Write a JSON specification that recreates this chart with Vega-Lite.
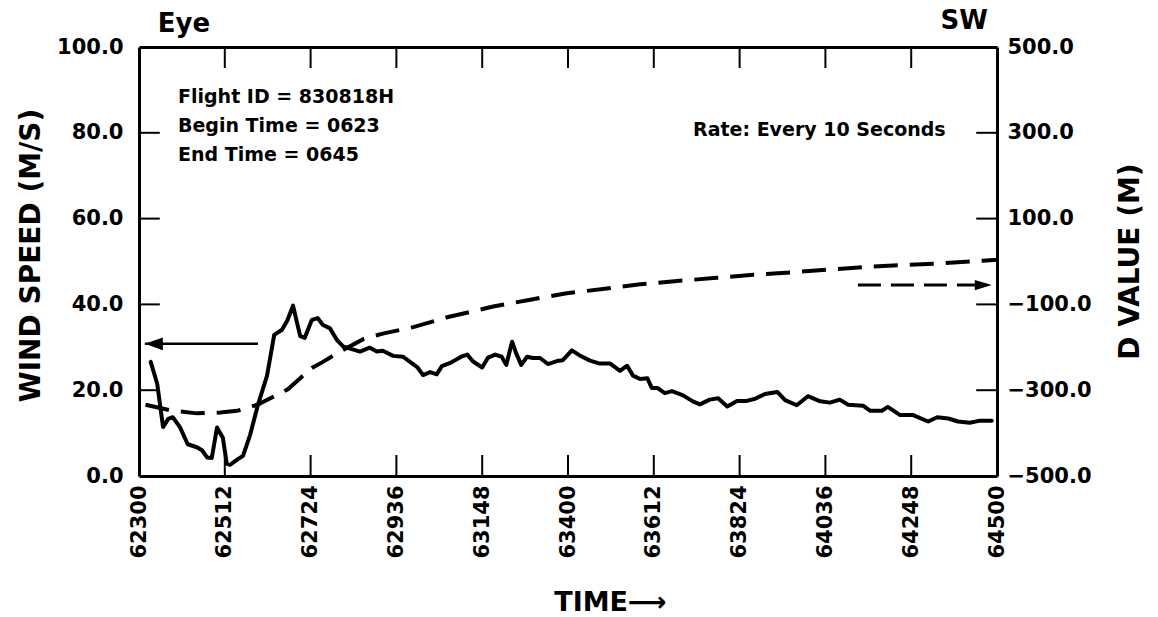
{
  "$schema": "https://vega.github.io/schema/vega-lite/v6.json",
  "width": 858,
  "height": 429,
  "autosize": {"type": "none"},
  "padding": {"left": 139, "top": 47, "right": 161, "bottom": 141},
  "background": "white",
  "config": {
    "view": {"stroke": null},
    "font": "DejaVu Sans",
    "axis": {
      "domainColor": "black",
      "domainWidth": 3,
      "ticks": false,
      "grid": false,
      "labelFont": "DejaVu Sans",
      "labelFontWeight": "bold",
      "labelFontSize": 21,
      "labelColor": "black",
      "labelFlush": false,
      "labelOverlap": false,
      "titleFont": "DejaVu Sans",
      "titleFontWeight": "bold",
      "titleFontSize": 28,
      "titleColor": "black"
    },
    "text": {"font": "DejaVu Sans", "fontWeight": "bold", "color": "black"}
  },
  "datasets": {
    "wind": [
      {"t": 18, "w": 26.6}, {"t": 28, "w": 21.5}, {"t": 37, "w": 11.4}, {"t": 45, "w": 13.3}, {"t": 52, "w": 13.7},
      {"t": 63, "w": 11.4}, {"t": 75, "w": 7.4}, {"t": 89, "w": 6.7}, {"t": 97, "w": 6.0}, {"t": 105, "w": 4.3},
      {"t": 112, "w": 4.2}, {"t": 120, "w": 11.3}, {"t": 129, "w": 8.9}, {"t": 135, "w": 2.9}, {"t": 140, "w": 2.6},
      {"t": 151, "w": 3.8}, {"t": 160, "w": 4.7}, {"t": 171, "w": 9.6}, {"t": 183, "w": 16.6}, {"t": 197, "w": 23.4},
      {"t": 208, "w": 32.9}, {"t": 220, "w": 34.1}, {"t": 228, "w": 36.2}, {"t": 237, "w": 39.7}, {"t": 248, "w": 32.6},
      {"t": 255, "w": 32.2}, {"t": 266, "w": 36.4}, {"t": 275, "w": 36.8}, {"t": 283, "w": 35.2}, {"t": 294, "w": 34.4},
      {"t": 305, "w": 31.6}, {"t": 314, "w": 30.2}, {"t": 325, "w": 29.7}, {"t": 340, "w": 29.0}, {"t": 355, "w": 29.9},
      {"t": 366, "w": 29.0}, {"t": 375, "w": 29.2}, {"t": 391, "w": 28.0}, {"t": 406, "w": 27.8}, {"t": 417, "w": 26.6},
      {"t": 428, "w": 25.4}, {"t": 437, "w": 23.5}, {"t": 448, "w": 24.2}, {"t": 458, "w": 23.7}, {"t": 466, "w": 25.6},
      {"t": 478, "w": 26.3}, {"t": 489, "w": 27.2}, {"t": 497, "w": 27.9}, {"t": 505, "w": 28.3}, {"t": 514, "w": 26.7},
      {"t": 528, "w": 25.3}, {"t": 537, "w": 27.6}, {"t": 548, "w": 28.3}, {"t": 558, "w": 27.8}, {"t": 565, "w": 25.9},
      {"t": 574, "w": 31.3}, {"t": 580, "w": 28.7}, {"t": 588, "w": 25.9}, {"t": 597, "w": 27.8}, {"t": 606, "w": 27.5},
      {"t": 617, "w": 27.5}, {"t": 629, "w": 26.1}, {"t": 643, "w": 26.8}, {"t": 652, "w": 27.0}, {"t": 666, "w": 29.3},
      {"t": 678, "w": 28.1}, {"t": 694, "w": 26.9}, {"t": 709, "w": 26.2}, {"t": 725, "w": 26.2}, {"t": 740, "w": 24.5},
      {"t": 751, "w": 25.7}, {"t": 760, "w": 23.4}, {"t": 771, "w": 22.6}, {"t": 782, "w": 22.8}, {"t": 789, "w": 20.5},
      {"t": 798, "w": 20.5}, {"t": 809, "w": 19.3}, {"t": 820, "w": 19.8}, {"t": 837, "w": 18.8}, {"t": 852, "w": 17.4},
      {"t": 863, "w": 16.7}, {"t": 878, "w": 17.8}, {"t": 891, "w": 18.1}, {"t": 905, "w": 16.2}, {"t": 920, "w": 17.5},
      {"t": 935, "w": 17.5}, {"t": 948, "w": 18.0}, {"t": 963, "w": 19.1}, {"t": 982, "w": 19.6}, {"t": 994, "w": 17.7},
      {"t": 1012, "w": 16.5}, {"t": 1029, "w": 18.6}, {"t": 1048, "w": 17.4}, {"t": 1063, "w": 17.1}, {"t": 1078, "w": 17.8},
      {"t": 1091, "w": 16.6}, {"t": 1114, "w": 16.4}, {"t": 1125, "w": 15.2}, {"t": 1143, "w": 15.2}, {"t": 1152, "w": 16.1},
      {"t": 1171, "w": 14.2}, {"t": 1191, "w": 14.2}, {"t": 1214, "w": 12.7}, {"t": 1228, "w": 13.7}, {"t": 1245, "w": 13.4},
      {"t": 1260, "w": 12.7}, {"t": 1278, "w": 12.4}, {"t": 1294, "w": 12.9}, {"t": 1312, "w": 12.9}
    ],
    "dvalue": [
      {"t": 10, "d": -334}, {"t": 48, "d": -347}, {"t": 89, "d": -354}, {"t": 125, "d": -352}, {"t": 151, "d": -348},
      {"t": 182, "d": -334}, {"t": 206, "d": -316}, {"t": 229, "d": -298}, {"t": 248, "d": -272}, {"t": 266, "d": -248},
      {"t": 283, "d": -234}, {"t": 309, "d": -210}, {"t": 345, "d": -181}, {"t": 375, "d": -168}, {"t": 422, "d": -153},
      {"t": 474, "d": -130}, {"t": 545, "d": -105}, {"t": 602, "d": -89}, {"t": 658, "d": -74}, {"t": 720, "d": -63},
      {"t": 771, "d": -53}, {"t": 832, "d": -45}, {"t": 889, "d": -38}, {"t": 945, "d": -31}, {"t": 1006, "d": -25},
      {"t": 1068, "d": -18}, {"t": 1125, "d": -12}, {"t": 1182, "d": -8}, {"t": 1237, "d": -4}, {"t": 1298, "d": 2},
      {"t": 1320, "d": 4}
    ],
    "ticks": [
      {"t": 0, "t2": 32, "w": 20, "w2": 20}, {"t": 0, "t2": 32, "w": 40, "w2": 40},
      {"t": 0, "t2": 32, "w": 60, "w2": 60}, {"t": 0, "t2": 32, "w": 80, "w2": 80},
      {"t": 1288, "t2": 1320, "w": 20, "w2": 20}, {"t": 1288, "t2": 1320, "w": 40, "w2": 40},
      {"t": 1288, "t2": 1320, "w": 60, "w2": 60}, {"t": 1288, "t2": 1320, "w": 80, "w2": 80},
      {"t": 132, "t2": 132, "w": 0, "w2": 4.9}, {"t": 264, "t2": 264, "w": 0, "w2": 4.9},
      {"t": 396, "t2": 396, "w": 0, "w2": 4.9}, {"t": 528, "t2": 528, "w": 0, "w2": 4.9},
      {"t": 660, "t2": 660, "w": 0, "w2": 4.9}, {"t": 792, "t2": 792, "w": 0, "w2": 4.9},
      {"t": 924, "t2": 924, "w": 0, "w2": 4.9}, {"t": 1056, "t2": 1056, "w": 0, "w2": 4.9},
      {"t": 1188, "t2": 1188, "w": 0, "w2": 4.9},
      {"t": 132, "t2": 132, "w": 95.1, "w2": 100}, {"t": 264, "t2": 264, "w": 95.1, "w2": 100},
      {"t": 396, "t2": 396, "w": 95.1, "w2": 100}, {"t": 528, "t2": 528, "w": 95.1, "w2": 100},
      {"t": 660, "t2": 660, "w": 95.1, "w2": 100}, {"t": 792, "t2": 792, "w": 95.1, "w2": 100},
      {"t": 924, "t2": 924, "w": 95.1, "w2": 100}, {"t": 1056, "t2": 1056, "w": 95.1, "w2": 100},
      {"t": 1188, "t2": 1188, "w": 95.1, "w2": 100}
    ],
    "infoText": [
      {"t": 60, "w": 86.9, "label": "Flight ID = 830818H"},
      {"t": 60, "w": 80.2, "label": "Begin Time = 0623"},
      {"t": 60, "w": 73.4, "label": "End Time = 0645"}
    ],
    "rateText": [{"t": 1241, "w": 79.3, "label": "Rate: Every 10 Seconds"}],
    "eyeText": [{"t": 29, "w": 103.5, "label": "Eye"}],
    "swText": [{"t": 1306, "w": 104.2, "label": "SW"}],
    "leftArrow": [{"t": 9, "t2": 183, "w": 30.8}],
    "rightArrow": [{"t": 1106, "t2": 1286, "w": 44.5}],
    "leftHead": [{"t": 9, "w": 30.8}],
    "rightHead": [{"t": 1312, "w": 44.5}]
  },
  "layer": [
    {
      "layer": [
        {
          "data": {"name": "wind"},
          "mark": {"type": "line", "color": "black", "strokeWidth": 4, "strokeJoin": "round", "strokeCap": "round"},
          "encoding": {
            "x": {
              "field": "t", "type": "quantitative",
              "scale": {"domain": [0, 1320], "nice": false, "zero": false},
              "axis": {
                "orient": "bottom",
                "values": [0, 132, 264, 396, 528, 660, 792, 924, 1056, 1188, 1320],
                "labelExpr": "['62300','62512','62724','62936','63148','63400','63612','63824','64036','64248','64500'][round(datum.value/132)]",
                "labelAngle": 270,
                "labelAlign": "right",
                "labelBaseline": "middle",
                "labelPadding": 9,
                "title": "TIME⟶",
                "titleFontSize": 27,
                "titleX": 471,
                "titleY": 134,
                "titleAlign": "center",
                "titleBaseline": "alphabetic"
              }
            },
            "y": {
              "field": "w", "type": "quantitative",
              "scale": {"domain": [0, 100], "nice": false, "zero": false},
              "axis": {
                "orient": "left",
                "values": [0, 20, 40, 60, 80, 100],
                "format": ".1f",
                "labelPadding": 16,
                "title": "WIND SPEED (M/S)",
                "titleAngle": 270,
                "titleX": -108,
                "titleY": 208,
                "titleAlign": "center",
                "titleBaseline": "middle"
              }
            }
          }
        },
        {
          "data": {"name": "ticks"},
          "mark": {"type": "rule", "color": "black", "strokeWidth": 2},
          "encoding": {
            "x": {"field": "t", "type": "quantitative"},
            "x2": {"field": "t2"},
            "y": {"field": "w", "type": "quantitative"},
            "y2": {"field": "w2"}
          }
        },
        {
          "data": {"name": "infoText"},
          "mark": {"type": "text", "align": "left", "baseline": "alphabetic", "fontSize": 19},
          "encoding": {
            "x": {"field": "t", "type": "quantitative"},
            "y": {"field": "w", "type": "quantitative"},
            "text": {"field": "label"}
          }
        },
        {
          "data": {"name": "rateText"},
          "mark": {"type": "text", "align": "right", "baseline": "alphabetic", "fontSize": 19},
          "encoding": {
            "x": {"field": "t", "type": "quantitative"},
            "y": {"field": "w", "type": "quantitative"},
            "text": {"field": "label"}
          }
        },
        {
          "data": {"name": "eyeText"},
          "mark": {"type": "text", "align": "left", "baseline": "alphabetic", "fontSize": 26},
          "encoding": {
            "x": {"field": "t", "type": "quantitative"},
            "y": {"field": "w", "type": "quantitative"},
            "text": {"field": "label"}
          }
        },
        {
          "data": {"name": "swText"},
          "mark": {"type": "text", "align": "right", "baseline": "alphabetic", "fontSize": 26},
          "encoding": {
            "x": {"field": "t", "type": "quantitative"},
            "y": {"field": "w", "type": "quantitative"},
            "text": {"field": "label"}
          }
        },
        {
          "data": {"name": "leftArrow"},
          "mark": {"type": "rule", "color": "black", "strokeWidth": 2.5},
          "encoding": {
            "x": {"field": "t", "type": "quantitative"},
            "x2": {"field": "t2"},
            "y": {"field": "w", "type": "quantitative"}
          }
        },
        {
          "data": {"name": "rightArrow"},
          "mark": {"type": "rule", "color": "black", "strokeWidth": 3, "strokeDash": [23, 10]},
          "encoding": {
            "x": {"field": "t", "type": "quantitative"},
            "x2": {"field": "t2"},
            "y": {"field": "w", "type": "quantitative"}
          }
        },
        {
          "data": {"name": "leftHead"},
          "mark": {"type": "point", "shape": "M0,0L2,-0.7L2,0.7Z", "size": 324, "filled": true, "color": "black", "opacity": 1},
          "encoding": {
            "x": {"field": "t", "type": "quantitative"},
            "y": {"field": "w", "type": "quantitative"}
          }
        },
        {
          "data": {"name": "rightHead"},
          "mark": {"type": "point", "shape": "M0,0L-2,-0.6L-2,0.6Z", "size": 289, "filled": true, "color": "black", "opacity": 1},
          "encoding": {
            "x": {"field": "t", "type": "quantitative"},
            "y": {"field": "w", "type": "quantitative"}
          }
        }
      ]
    },
    {
      "data": {"name": "dvalue"},
      "mark": {"type": "line", "color": "black", "strokeWidth": 4, "strokeDash": [24, 12]},
      "encoding": {
        "x": {
          "field": "t", "type": "quantitative",
          "axis": {
            "orient": "top",
            "values": [0, 132, 264, 396, 528, 660, 792, 924, 1056, 1188, 1320],
            "labels": false,
            "title": null
          }
        },
        "y": {
          "field": "d", "type": "quantitative",
          "scale": {"domain": [-500, 500], "nice": false, "zero": false},
          "axis": {
            "orient": "right",
            "values": [-500, -300, -100, 100, 300, 500],
            "format": ".1f",
            "labelPadding": 10,
            "title": "D VALUE (M)",
            "titleAngle": 270,
            "titleX": 133,
            "titleY": 214,
            "titleAlign": "center",
            "titleBaseline": "middle"
          }
        }
      }
    }
  ],
  "resolve": {
    "scale": {"y": "independent"},
    "axis": {"x": "independent", "y": "independent"}
  }
}
